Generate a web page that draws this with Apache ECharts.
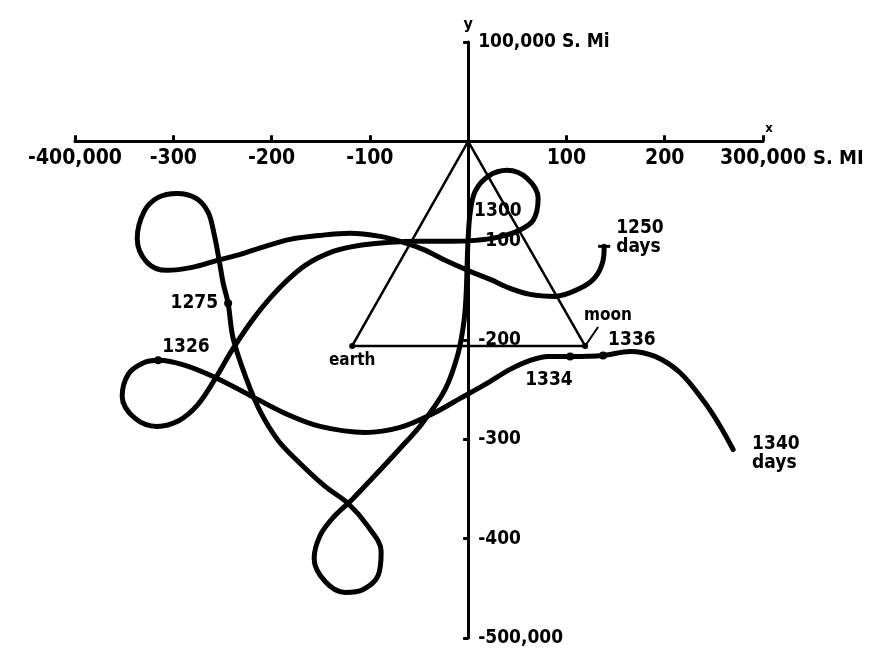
<!DOCTYPE html>
<html>
<head>
<meta charset="utf-8">
<script src="https://cdn.jsdelivr.net/npm/echarts@6/dist/echarts.min.js"></script>
<style>
  html, body { margin: 0; padding: 0; background: #fff; }
  #chart { width: 879px; height: 658px; }
</style>
</head>
<body>
<div id="chart"></div>
<script>
// Axis ticks (thousands of statute miles) and their printed labels
const xTicks = [-400, -300, -200, -100, 0, 100, 200, 300];
const xTickLabels = ['-400,000', '-300', '-200', '-100', '', '100', '200', '300,000'];
const yTicks = [100, 0, -100, -200, -300, -400, -500];
const yTickLabels = ['100,000 S. Mi', '', '-100', '-200', '-300', '-400', '-500,000'];

// Trajectory from day 1250 to day 1340 (thousands of miles)
const trajX = [138.4, 137.3, 129.2, 113.9, 88.5, 63.1, 42.7, 22.4, 2.0, -23.4,
  -45.8, -69.2, -89.5, -120.0, -150.6, -181.1, -206.5, -231.9, -255.3, -280.8,
  -306.2, -326.6, -336.7, -329.6, -315.4, -296.0, -276.7, -264.5, -258.4, -253.3,
  -249.2, -244.2, -239.1, -225.8, -211.6, -193.3, -170.9, -145.5, -122.1, -102.7,
  -88.5, -91.6, -106.8, -125.1, -145.5, -156.7, -150.6, -137.3, -118.0, -97.7,
  -71.2, -46.8, -23.4, -10.2, -4.1, -2.0, -1.0, 0.0, 2.0, 7.1,
  20.3, 39.7, 60.0, 71.2, 66.1, 49.8, 29.5, 7.1, -18.3, -48.8,
  -79.3, -109.9, -137.3, -165.8, -191.3, -216.7, -239.1, -258.4, -275.7, -294.0,
  -316.4, -338.8, -352.0, -345.9, -331.6, -315.4, -287.9, -255.3, -221.8, -186.2,
  -150.6, -104.8, -69.2, -35.6, -8.1, 17.3, 42.7, 63.1, 81.4, 103.8,
  137.3, 164.8, 190.2, 215.7, 240.0, 256.0, 269.6];
const trajY = [-105.7, -119.8, -137.0, -148.0, -156.1, -154.1, -148.0, -139.0, -130.9, -119.8,
  -108.8, -100.7, -95.7, -92.6, -94.7, -98.7, -105.7, -113.8, -119.8, -126.9,
  -129.9, -121.9, -97.7, -70.5, -56.4, -52.4, -57.4, -71.5, -93.7, -119.8,
  -143.0, -163.1, -198.4, -238.7, -271.9, -301.1, -324.3, -347.4, -364.6, -386.7,
  -412.9, -437.1, -451.2, -454.2, -443.1, -419.9, -396.8, -378.7, -360.5, -339.4,
  -311.2, -284.0, -249.7, -213.5, -180.3, -153.1, -122.9, -97.7, -72.5, -50.4,
  -35.2, -29.2, -37.3, -57.4, -79.6, -90.6, -96.7, -99.7, -100.7, -100.7,
  -101.7, -104.7, -110.8, -124.9, -147.0, -176.2, -208.5, -240.7, -265.9, -281.0,
  -287.0, -279.0, -256.8, -234.6, -223.6, -220.5, -225.6, -238.7, -255.8, -273.9,
  -287.0, -293.1, -288.0, -273.9, -258.8, -244.7, -229.6, -220.5, -216.5, -216.5,
  -215.5, -211.5, -216.5, -233.0, -262.0, -286.0, -310.2];

// Day marks along the trajectory
const dayValues = [1250, 1275, 1300, 1326, 1334, 1336, 1340];
const dayLabels = ['1250\ndays', '1275', '1300', '1326', '1334', '1336', '1340\ndays'];
const dayX = [138.4, -244.2, 2.0, -315.4, 103.8, 137.3, 269.6];
const dayY = [-105.7, -163.1, -72.5, -220.5, -216.5, -215.5, -310.2];

// Earth and moon, forming a triangle with the origin
const bodyNames = ['earth', 'moon'];
const bodyX = [-118, 119];
const bodyY = [-206, -206];

const X_MIN = -400, X_MAX = 300, Y_MIN = -500, Y_MAX = 100;
const GRID = { left: 75, right: 116, top: 42, bottom: 20 };
const W = 879, H = 658;

const FONT = '"DejaVu Sans Condensed", "DejaVu Sans", sans-serif';
const INK = '#000';

// the axes cross at the origin: shift them from the grid edge into place
const gridW = W - GRID.left - GRID.right;
const gridH = H - GRID.top - GRID.bottom;
const yAxisShift = (0 - X_MIN) / (X_MAX - X_MIN) * gridW;
const xAxisShift = (Y_MAX - 0) / (Y_MAX - Y_MIN) * gridH;

const chart = echarts.init(document.getElementById('chart'), null, { renderer: 'canvas' });

const trajData = trajX.map((x, i) => [x, trajY[i]]);
const triData = [[0, 0], [bodyX[0], bodyY[0]], [bodyX[1], bodyY[1]], [0, 0]];

const labelFont = { color: INK, fontFamily: FONT, fontWeight: 'bold', opacity: 1 };

// label placement per day mark
const dayStyle = {
  1250: { size: [12, 3], pos: [18, -26], align: 'left' },
  1275: { size: 8, pos: [-6, -6], align: 'right' },
  1300: { size: 0, pos: [4, -12], align: 'left' },
  1326: { size: 8, pos: [8, -19], align: 'left' },
  1334: { size: 8, pos: [-41, 18], align: 'left' },
  1336: { size: 8, pos: [9, -21], align: 'left' },
  1340: { size: 0, pos: [19, -15], align: 'left' }
};

const dayData = dayValues.map((d, i) => {
  const s = dayStyle[d];
  return {
    value: [dayX[i], dayY[i]],
    symbol: Array.isArray(s.size) ? 'rect' : 'circle',
    symbolSize: s.size,
    label: Object.assign({
      show: true,
      formatter: dayLabels[i],
      position: s.pos,
      align: s.align,
      verticalAlign: 'top',
      fontSize: 19,
      lineHeight: 19
    }, labelFont)
  };
});

const bodyData = bodyNames.map((n, i) => ({
  name: n,
  value: [bodyX[i], bodyY[i]],
  label: Object.assign(n === 'earth'
    ? { show: true, position: 'bottom', distance: 3, formatter: n, fontSize: 17 }
    : { show: true, position: [2, -36], formatter: n, fontSize: 17 }, labelFont)
}));

chart.setOption({
  backgroundColor: '#fff',
  animation: false,
  grid: Object.assign({ containLabel: false }, GRID),
  xAxis: {
    type: 'value', min: X_MIN, max: X_MAX, interval: 100,
    position: 'top', offset: -xAxisShift,
    splitLine: { show: false },
    axisLine: { onZero: false, lineStyle: { color: INK, width: 3 } },
    axisTick: { inside: false, length: 6, lineStyle: { color: INK, width: 3 } },
    axisLabel: Object.assign({
      inside: true, fontSize: 21, margin: 7,
      formatter: v => { const k = xTicks.indexOf(v); return k < 0 ? '' : xTickLabels[k]; }
    }, labelFont),
    name: 'S. MI', nameLocation: 'end', nameGap: 50,
    nameTextStyle: Object.assign({ fontSize: 20, verticalAlign: 'top', padding: [7, 0, 0, 0] }, labelFont)
  },
  yAxis: {
    type: 'value', min: Y_MIN, max: Y_MAX, interval: 100,
    position: 'left', offset: -yAxisShift,
    splitLine: { show: false },
    axisLine: { onZero: false, lineStyle: { color: INK, width: 3 } },
    axisTick: { inside: false, length: 5, lineStyle: { color: INK, width: 3 } },
    axisLabel: Object.assign({
      inside: true, margin: 10, fontSize: 19,
      formatter: v => { const k = yTicks.indexOf(v); return k < 0 ? '' : yTickLabels[k]; }
    }, labelFont),
    name: 'y', nameLocation: 'end', nameGap: 8,
    nameTextStyle: Object.assign({ fontSize: 16, align: 'center' }, labelFont)
  },
  series: [
    {
      name: 'triangle', type: 'line', data: triData,
      symbol: 'none', smooth: false, z: 2,
      lineStyle: { color: INK, width: 2.5 }
    },
    {
      name: 'trajectory', type: 'line', data: trajData,
      symbol: 'none', smooth: 0.35, z: 3,
      lineStyle: { color: INK, width: 5, cap: 'round', join: 'round' }
    },
    {
      name: 'days', type: 'scatter', data: dayData, z: 4,
      itemStyle: { color: INK, opacity: 1 }
    },
    {
      name: 'bodies', type: 'scatter', data: bodyData, z: 4,
      symbolSize: 6, itemStyle: { color: INK, opacity: 1 }
    }
  ]
});

// small "x" at the end of the horizontal axis, and the leader from the moon to its name
const xEnd = chart.convertToPixel({ gridIndex: 0 }, [X_MAX, 0]);
const moonPx = chart.convertToPixel({ gridIndex: 0 }, [bodyX[1], bodyY[1]]);
chart.setOption({
  graphic: [
    {
      type: 'text', x: xEnd[0] + 6, y: xEnd[1] - 6,
      style: { text: 'x', fill: INK, font: 'bold 13px ' + FONT, textAlign: 'center', textVerticalAlign: 'bottom' }
    },
    {
      type: 'line', z: 5,
      shape: { x1: moonPx[0], y1: moonPx[1], x2: moonPx[0] + 13, y2: moonPx[1] - 19 },
      style: { stroke: INK, lineWidth: 2 }
    }
  ]
});
</script>
</body>
</html>
